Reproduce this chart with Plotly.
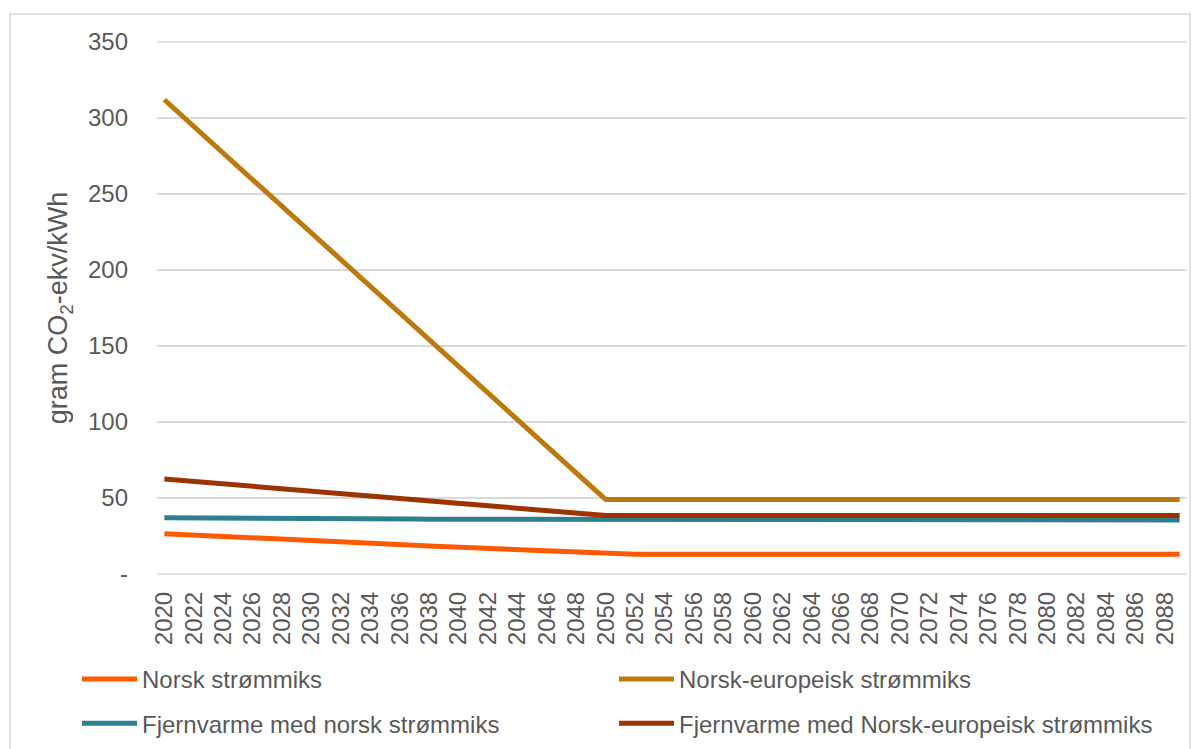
import plotly.graph_objects as go

# Years on the category axis
years = [str(y) for y in range(2020, 2090)]

# Emission factors, gram CO2-ekv/kWh
norsk = [
    26.5, 26.1, 25.6, 25.2, 24.7, 24.3, 23.8, 23.4, 22.9, 22.5,
    22.0, 21.6, 21.1, 20.7, 20.2, 19.8, 19.3, 18.9, 18.4, 18.0,
    17.5, 17.1, 16.6, 16.2, 15.7, 15.3, 14.8, 14.4, 13.9, 13.5,
    13.0, 13.0, 13.0, 13.0, 13.0, 13.0, 13.0, 13.0, 13.0, 13.0,
    13.0, 13.0, 13.0, 13.0, 13.0, 13.0, 13.0, 13.0, 13.0, 13.0,
    13.0, 13.0, 13.0, 13.0, 13.0, 13.0, 13.0, 13.0, 13.0, 13.0,
    13.0, 13.0, 13.0, 13.0, 13.0, 13.0, 13.0, 13.0, 13.0, 13.0,
]
norsk_europeisk = [
    312.0, 303.2, 294.5, 285.7, 276.9, 268.2, 259.4, 250.6, 241.8, 233.1,
    224.3, 215.5, 206.8, 198.0, 189.2, 180.5, 171.7, 162.9, 154.1, 145.4,
    136.6, 127.8, 119.1, 110.3, 101.5, 92.8, 84.0, 75.2, 66.4, 57.7,
    49.0, 49.0, 49.0, 49.0, 49.0, 49.0, 49.0, 49.0, 49.0, 49.0,
    49.0, 49.0, 49.0, 49.0, 49.0, 49.0, 49.0, 49.0, 49.0, 49.0,
    49.0, 49.0, 49.0, 49.0, 49.0, 49.0, 49.0, 49.0, 49.0, 49.0,
    49.0, 49.0, 49.0, 49.0, 49.0, 49.0, 49.0, 49.0, 49.0, 49.0,
]
fjernvarme_norsk = [
    37.0, 37.0, 36.9, 36.9, 36.8, 36.8, 36.7, 36.7, 36.6, 36.6,
    36.5, 36.5, 36.4, 36.4, 36.3, 36.3, 36.2, 36.2, 36.1, 36.1,
    36.0, 36.0, 35.9, 35.9, 35.8, 35.8, 35.7, 35.7, 35.6, 35.6,
    35.5, 35.5, 35.5, 35.5, 35.5, 35.5, 35.5, 35.5, 35.5, 35.5,
    35.5, 35.5, 35.5, 35.5, 35.5, 35.5, 35.5, 35.5, 35.5, 35.5,
    35.5, 35.5, 35.5, 35.5, 35.5, 35.5, 35.5, 35.5, 35.5, 35.5,
    35.5, 35.5, 35.5, 35.5, 35.5, 35.5, 35.5, 35.5, 35.5, 35.5,
]
fjernvarme_ne = [
    62.5, 61.7, 60.9, 60.1, 59.3, 58.5, 57.7, 56.9, 56.1, 55.3,
    54.5, 53.7, 52.9, 52.1, 51.3, 50.5, 49.7, 48.9, 48.1, 47.3,
    46.5, 45.7, 44.9, 44.1, 43.3, 42.5, 41.7, 40.9, 40.1, 39.3,
    38.5, 38.5, 38.5, 38.5, 38.5, 38.5, 38.5, 38.5, 38.5, 38.5,
    38.5, 38.5, 38.5, 38.5, 38.5, 38.5, 38.5, 38.5, 38.5, 38.5,
    38.5, 38.5, 38.5, 38.5, 38.5, 38.5, 38.5, 38.5, 38.5, 38.5,
    38.5, 38.5, 38.5, 38.5, 38.5, 38.5, 38.5, 38.5, 38.5, 38.5,
]

y_ticks = [0, 50, 100, 150, 200, 250, 300, 350]
y_tick_text = ["-", "50", "100", "150", "200", "250", "300", "350"]

series = [
    ("Norsk strømmiks", norsk, "#FF5A00", "legend", "g1"),
    ("Norsk-europeisk strømmiks", norsk_europeisk, "#BC790E", "legend2", "g2"),
    ("Fjernvarme med norsk strømmiks", fjernvarme_norsk, "#2E7F8F", "legend", "g3"),
    ("Fjernvarme med Norsk-europeisk strømmiks", fjernvarme_ne, "#9C3300", "legend2", "g4"),
]

fig = go.Figure()
for name, vals, color, leg, grp in series:
    fig.add_trace(go.Scatter(
        x=years, y=vals, name=name, mode="lines",
        line=dict(color=color, width=5),
        legend=leg, legendgroup=grp,
    ))

# Plot area geometry in pixels
W, H = 1202, 749
L, R, T, B = 157, 15, 42, 175
pw, ph = W - L - R, H - T - B

def px_x(x):
    return (x - L) / pw

def px_y(y):
    return (H - B - y) / ph

text_color = "#595959"
grid_color = "#D9D9D9"
font_family = "Liberation Sans, Arial"
fs = 24

legend_common = dict(
    orientation="v", font=dict(family=font_family, size=fs, color=text_color),
    bgcolor="rgba(0,0,0,0)", tracegroupgap=10, xanchor="left", yanchor="top",
    traceorder="grouped", itemwidth=55,
)

fig.update_layout(
    width=W, height=H,
    margin=dict(l=L, r=R, t=T, b=B, autoexpand=False),
    paper_bgcolor="white", plot_bgcolor="white",
    font=dict(family=font_family, color=text_color),
    legend=dict(x=px_x(77), y=px_y(657), **legend_common),
    legend2=dict(x=px_x(614), y=px_y(657), **legend_common),
    xaxis=dict(
        type="category", range=[-0.5, len(years) - 0.5],
        tickmode="array", tickvals=years[::2], ticktext=years[::2],
        tickangle=-90, tickfont=dict(size=fs, color=text_color),
        showgrid=False, zeroline=False, showline=False,
        ticks="", ticklabelstandoff=12, automargin=False,
    ),
    yaxis=dict(
        range=[0, 350], tickmode="array", tickvals=y_ticks, ticktext=y_tick_text,
        tickfont=dict(size=fs, color=text_color),
        showgrid=True, gridcolor=grid_color, gridwidth=1.5,
        zeroline=False, showline=False, ticks="", ticklabelstandoff=28,
        title=dict(text="gram CO<sub>2</sub>-ekv/kWh", font=dict(size=27, color=text_color), standoff=12),
        automargin=False,
    ),
    shapes=[
        dict(type="rect", xref="paper", yref="paper",
             x0=px_x(10), x1=px_x(1190), y0=px_y(760), y1=px_y(14),
             line=dict(color=grid_color, width=1.5), fillcolor="rgba(0,0,0,0)", layer="below"),
        dict(type="line", xref="paper", yref="paper",
             x0=0, x1=1, y0=0, y1=0, line=dict(color=grid_color, width=1.5), layer="below"),
        dict(type="line", xref="paper", yref="paper",
             x0=0, x1=1, y0=1, y1=1, line=dict(color=grid_color, width=1.5), layer="below"),
    ],
)

fig.write_html("out.html")
